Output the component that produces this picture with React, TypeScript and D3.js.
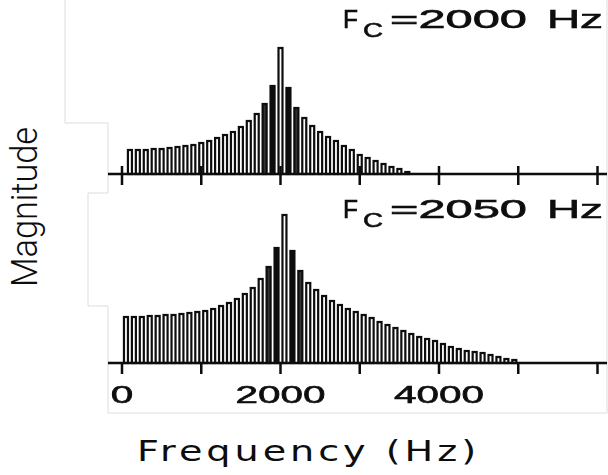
import React from "react";
import * as d3 from "d3";

// harmonic frequencies (Hz) and magnitudes
const topFreqs = [
  100, 200, 300, 400, 500, 600, 700, 800, 900, 1000, 1100, 1200, 1300, 1400, 1500, 1600, 1700, 1800,
  1900, 2000, 2100, 2200, 2300, 2400, 2500, 2600, 2700, 2800, 2900, 3000, 3100, 3200, 3300, 3400, 3500, 3600,
];
const topMags = [
  24, 24, 24, 25, 25, 26, 27, 28, 29, 31, 33, 36, 39, 42, 47, 53, 60, 70,
  88, 126, 86, 66, 56, 48, 42, 37, 33, 28, 24, 19, 16, 13, 10, 7, 5, 2,
];

const bottomFreqs = [
  50, 150, 250, 350, 450, 550, 650, 750, 850, 950, 1050, 1150, 1250, 1350, 1450, 1550, 1650, 1750, 1850,
  1950, 2050, 2150, 2250, 2350, 2450, 2550, 2650, 2750, 2850, 2950, 3050, 3150, 3250, 3350, 3450, 3550,
  3650, 3750, 3850, 3950, 4050, 4150, 4250, 4350, 4450, 4550, 4650, 4750, 4850, 4950,
];
const bottomMags = [
  46, 46, 46, 47, 47, 48, 48, 49, 50, 51, 52, 54, 57, 60, 64, 69, 75, 84, 96,
  115, 148, 112, 92, 80, 73, 67, 62, 58, 54, 51, 48, 45, 41, 38, 35, 32,
  29, 26, 24, 22, 19, 16, 14, 12, 11, 10, 8, 6, 4, 3,
];

const centerFreqs = [2000, 2050];
const tickValues = [0, 1000, 2000, 3000, 4000, 5000, 6000];
const tickLabels = [0, 2000, 4000];

const W = 608;
const H = 475;
const ink = "#0d0d0d";

const x = d3.scaleLinear().domain([0, 6000]).range([122, 597.5]);

function Panel({ freqs, mags, fc, base, crossTicks }: any) {
  const y = d3.scaleLinear().domain([0, 150]).range([base, base - 150]);
  const bw = 4;
  return (
    <g>
      {freqs.map((f: number, i: number) => {
        const d = Math.abs(f - fc);
        // smeared print around the resonance
        const fill = d === 0 ? "#fff" : d <= 100 ? ink : d <= 200 ? "#333" : "#fff";
        return (
          <rect
            key={i}
            x={x(f) - bw / 2}
            y={y(mags[i])}
            width={bw}
            height={base - y(mags[i])}
            fill={fill}
            stroke={ink}
            strokeWidth={2.2}
          />
        );
      })}
      <line x1={108} x2={607} y1={base} y2={base} stroke={ink} strokeWidth={2.5} />
      {tickValues.map((t) => (
        <line
          key={t}
          x1={x(t)}
          x2={x(t)}
          y1={crossTicks ? base - 8 : base}
          y2={base + 11}
          stroke={ink}
          strokeWidth={2.5}
        />
      ))}
    </g>
  );
}

function FcLabel({ value, baseline }: any) {
  return (
    <g fontFamily="Liberation Sans, Arial, sans-serif" fill={ink} stroke={ink} strokeWidth={0.6}>
      <text x={343} y={baseline} fontSize={26} textLength={15} lengthAdjust="spacingAndGlyphs">F</text>
      <text x={363} y={baseline + 9} fontSize={21} textLength={20} lengthAdjust="spacingAndGlyphs">C</text>
      <text x={390} y={baseline} fontSize={25} textLength={137} lengthAdjust="spacingAndGlyphs">{"=" + value}</text>
      <text x={547} y={baseline} fontSize={25} textLength={56} lengthAdjust="spacingAndGlyphs">Hz</text>
    </g>
  );
}

export default function App() {
  return (
    <svg width={W} height={H} style={{ position: "absolute", left: 0, top: 0, background: "#fff" }}>
      <defs>
        <filter id="soft">
          <feGaussianBlur stdDeviation={0.3} />
        </filter>
      </defs>
      {/* faint paste borders of the scanned figure */}
      <path
        d="M65,0 V123 H108 V193 H88 V306 H108 V413 H607 V0"
        fill="none"
        stroke="#ddd"
        strokeWidth={1}
      />
      <g filter="url(#soft)">
        <Panel freqs={topFreqs} mags={topMags} fc={centerFreqs[0]} base={174} crossTicks={true} />
        <Panel freqs={bottomFreqs} mags={bottomMags} fc={centerFreqs[1]} base={363} crossTicks={false} />
        <FcLabel value={centerFreqs[0]} baseline={28} />
        <FcLabel value={centerFreqs[1]} baseline={218} />
        <g fontFamily="Liberation Sans, Arial, sans-serif" fill={ink} stroke={ink} strokeWidth={0.6} fontSize={23}>
          {tickLabels.map((t) => {
            const len = String(t).length * 22.5;
            return (
              <text key={t} x={x(t) - len / 2} y={403} textLength={len} lengthAdjust="spacingAndGlyphs">
                {t}
              </text>
            );
          })}
        </g>
      </g>
      <text
        x={137}
        y={461}
        fontFamily="DejaVu Sans, sans-serif"
        fontSize={29}
        fill={ink}
        letterSpacing={3}
        textLength={343}
        lengthAdjust="spacingAndGlyphs"
      >
        Frequency (Hz)
      </text>
      <text
        transform="translate(37,287) rotate(-90)"
        fontFamily="Roboto, sans-serif"
        fontWeight={300}
        fontSize={36}
        fill={ink}
        textLength={160}
        lengthAdjust="spacingAndGlyphs"
      >
        Magnitude
      </text>
    </svg>
  );
}
